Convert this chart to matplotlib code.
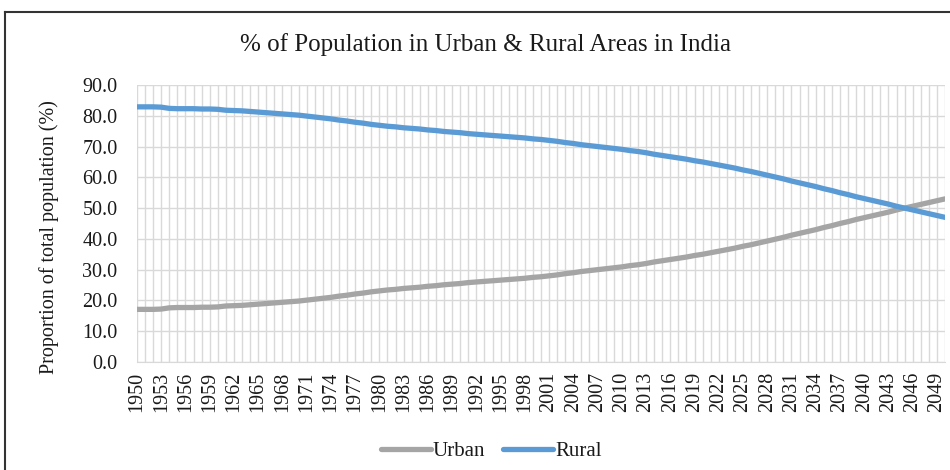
import matplotlib
matplotlib.use("Agg")
import matplotlib.pyplot as plt
from matplotlib.lines import Line2D
import numpy as np

years = list(range(1950, 2051))

urban = [17.1, 17.1, 17.1, 17.2, 17.6, 17.7, 17.7, 17.7, 17.8, 17.8,
         17.9, 18.2, 18.3, 18.4, 18.6, 18.8, 19.0, 19.2, 19.4, 19.6,
         19.8, 20.1, 20.4, 20.7, 21.0, 21.4, 21.7, 22.1, 22.4, 22.8,
         23.1, 23.4, 23.6, 23.9, 24.1, 24.3, 24.6, 24.8, 25.1, 25.3,
         25.5, 25.8, 26.0, 26.2, 26.4, 26.6, 26.8, 27.0, 27.2, 27.5,
         27.7, 28.0, 28.3, 28.7, 29.0, 29.4, 29.7, 30.0, 30.3, 30.6,
         30.9, 31.3, 31.6, 32.0, 32.5, 32.9, 33.3, 33.7, 34.1, 34.6,
         35.0, 35.5, 36.0, 36.5, 37.0, 37.6, 38.1, 38.7, 39.3, 39.9,
         40.5, 41.2, 41.8, 42.4, 43.0, 43.7, 44.3, 45.0, 45.6, 46.3,
         46.9, 47.5, 48.1, 48.7, 49.4, 50.0, 50.6, 51.2, 51.8, 52.4,
         53.0]

rural = [82.9, 82.9, 82.9, 82.8, 82.4, 82.3, 82.3, 82.3, 82.2, 82.2,
         82.1, 81.8, 81.7, 81.6, 81.4, 81.2, 81.0, 80.8, 80.6, 80.4,
         80.2, 79.9, 79.6, 79.3, 79.0, 78.6, 78.3, 77.9, 77.6, 77.2,
         76.9, 76.6, 76.4, 76.1, 75.9, 75.7, 75.4, 75.2, 74.9, 74.7,
         74.5, 74.2, 74.0, 73.8, 73.6, 73.4, 73.2, 73.0, 72.8, 72.5,
         72.3, 72.0, 71.7, 71.3, 71.0, 70.6, 70.3, 70.0, 69.7, 69.4,
         69.1, 68.7, 68.4, 68.0, 67.5, 67.1, 66.7, 66.3, 65.9, 65.4,
         65.0, 64.5, 64.0, 63.5, 63.0, 62.4, 61.9, 61.3, 60.7, 60.1,
         59.5, 58.8, 58.2, 57.6, 57.0, 56.3, 55.7, 55.0, 54.4, 53.7,
         53.1, 52.5, 51.9, 51.3, 50.6, 50.0, 49.4, 48.8, 48.2, 47.6,
         47.0]

title = "% of Population in Urban & Rural Areas in India"
ylabel = "Proportion of total population (%)"
series_names = ["Urban", "Rural"]
colors = ["#A5A5A5", "#5B9BD5"]

plt.rcParams['font.family'] = ['Liberation Serif', 'DejaVu Serif']

fig = plt.figure(figsize=(9.5, 4.7), dpi=100)
ax = fig.add_axes([137/950, 1-362/470, (945-137)/950, (362-85)/470])

for vals, name, c in zip([urban, rural], series_names, colors):
    ax.plot(years, vals, color=c, lw=3.8, label=name, solid_capstyle='round', zorder=3)

ax.set_xlim(1950, 2050)
ax.set_ylim(0, 90)
ax.set_yticks(np.arange(0, 91, 10))
ax.set_yticklabels([f"{v:.1f}" for v in np.arange(0, 91, 10)])
ax.set_xticks(list(range(1950, 2051, 3)))
ax.set_xticklabels([str(y) for y in range(1950, 2051, 3)], rotation=90)
ax.set_xticks(years, minor=True)

ax.grid(True, which='both', axis='x', color='#d9d9d9', lw=1.0, zorder=0)
ax.grid(True, which='major', axis='y', color='#d9d9d9', lw=1.0, zorder=0)
for s in ['top', 'right', 'left']:
    ax.spines[s].set_visible(False)
ax.spines['bottom'].set_color('#d9d9d9')
ax.tick_params(axis='both', which='both', length=0, labelsize=14.5, colors='#1a1a1a')
ax.tick_params(axis='y', pad=14)
ax.tick_params(axis='x', pad=7)

ax.set_ylabel(ylabel, fontsize=14.5, color='#1a1a1a')
ax.yaxis.set_label_coords((59-137)/808, (362-237)/277)

fig.text(486/950, 1-45/470, title, ha='center', va='center', fontsize=18, color='#1a1a1a')

leg = fig.legend(loc='center', bbox_to_anchor=(491/950, 1-451/470), ncol=2, frameon=False,
                 fontsize=15, handlelength=2.4, handletextpad=0.1, columnspacing=0.85)
for t in leg.get_texts():
    t.set_color('#1a1a1a')

# outer chart border (left and top edges visible)
fig.add_artist(Line2D([5/950, 5/950], [0, 1-12/470], color='#333333', lw=1.5, transform=fig.transFigure))
fig.add_artist(Line2D([5/950, 1], [1-12/470, 1-12/470], color='#333333', lw=1.5, transform=fig.transFigure))

fig.savefig("out.png", dpi=100)
